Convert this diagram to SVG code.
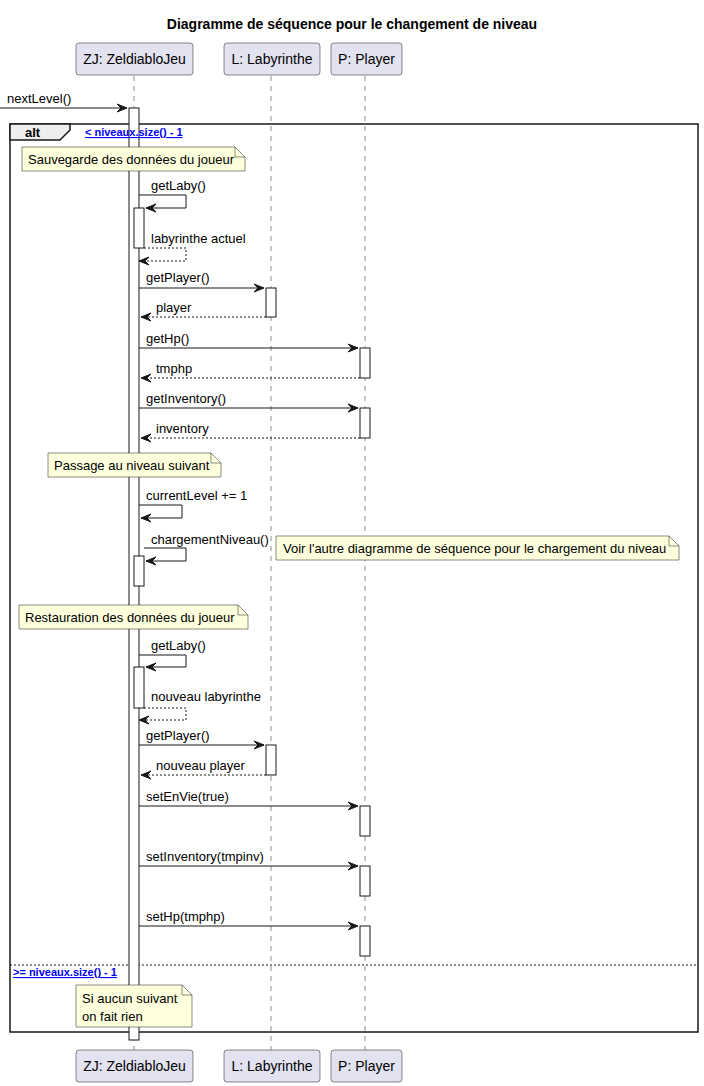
<svg xmlns="http://www.w3.org/2000/svg" width="704" height="1086" viewBox="0 0 704 1086">
<style>
text{font-family:"Liberation Sans",Arial,sans-serif;fill:#000;}
.t{font-size:13px;}
.p{font-size:14px;text-anchor:middle;}
.part{fill:#E2E2F0;stroke:#181818;stroke-width:0.5;}
.life{stroke:#181818;stroke-width:0.5;stroke-dasharray:5,5;fill:none;}
.act{fill:#FFFFFF;stroke:#181818;stroke-width:1;}
.msg{stroke:#181818;stroke-width:1;fill:none;}
.ret{stroke:#181818;stroke-width:1;fill:none;stroke-dasharray:2,2;}
.ah{fill:#181818;stroke:#181818;stroke-width:1;}
.note{fill:#FEFFDD;stroke:#181818;stroke-width:0.5;}
.cond{font-size:11px;font-weight:bold;fill:#0000FF;text-decoration:underline;}
</style>
<rect width="704" height="1086" fill="#FFFFFF"/>
<text x="352" y="29" style="font-size:14px;font-weight:bold;text-anchor:middle">Diagramme de séquence pour le changement de niveau</text>

<g id="lifelines">
<line class="life" x1="134" y1="76" x2="134" y2="1050"/>
<line class="life" x1="271" y1="76" x2="271" y2="1050"/>
<line class="life" x1="365" y1="76" x2="365" y2="1050"/>
</g>

<g id="frame-alt">
<rect x="10" y="124" width="688" height="908" fill="none" stroke="#181818" stroke-width="1.5"/>
<path d="M10,124 L70,124 L70,130 L60,140 L10,140 Z" fill="#EEEEEE" stroke="#181818" stroke-width="1.5"/>
<text x="25" y="137" style="font-size:13px;font-weight:bold">alt</text>
<line x1="10" y1="965" x2="698" y2="965" stroke="#181818" stroke-width="1" stroke-dasharray="2,2"/>
</g>

<g id="activations">
<rect class="act" x="129" y="108" width="10" height="932"/>
<rect class="act" x="134" y="208" width="10" height="40"/>
<rect class="act" x="266" y="288" width="10" height="29"/>
<rect class="act" x="360" y="348" width="10" height="30"/>
<rect class="act" x="360" y="408" width="10" height="30"/>
<rect class="act" x="134" y="556" width="10" height="30"/>
<rect class="act" x="134" y="667" width="10" height="41"/>
<rect class="act" x="266" y="745" width="10" height="30"/>
<rect class="act" x="360" y="806" width="10" height="30"/>
<rect class="act" x="360" y="866" width="10" height="30"/>
<rect class="act" x="360" y="926" width="10" height="30"/>
</g>

<g id="frame-conditions">
<text x="85" y="136" class="cond">&lt; niveaux.size() - 1</text>
<text x="13" y="976" class="cond">&gt;= niveaux.size() - 1</text>
</g>

<g id="connectors">
<line class="msg" x1="0" y1="108" x2="127" y2="108"/>
<polygon class="ah" points="117,104 127,108 117,112 121,108"/>
<text class="t" x="7" y="103">nextLevel()</text>
<polyline class="msg" points="139,195 186,195 186,208 146,208"/>
<polygon class="ah" points="156,204 146,208 156,212 152,208"/>
<text class="t" x="151" y="190">getLaby()</text>
<polyline class="ret" points="144,248 186,248 186,261 139,261"/>
<polygon class="ah" points="149,257 139,261 149,265 145,261"/>
<text class="t" x="151" y="243">labyrinthe actuel</text>
<line class="msg" x1="139" y1="288" x2="264" y2="288"/>
<polygon class="ah" points="254,284 264,288 254,292 258,288"/>
<text class="t" x="146" y="282">getPlayer()</text>
<line class="ret" x1="266" y1="317" x2="141" y2="317"/>
<polygon class="ah" points="151,313 141,317 151,321 147,317"/>
<text class="t" x="156" y="312">player</text>
<line class="msg" x1="139" y1="348" x2="358" y2="348"/>
<polygon class="ah" points="348,344 358,348 348,352 352,348"/>
<text class="t" x="146" y="343">getHp()</text>
<line class="ret" x1="360" y1="378" x2="141" y2="378"/>
<polygon class="ah" points="151,374 141,378 151,382 147,378"/>
<text class="t" x="156" y="373">tmphp</text>
<line class="msg" x1="139" y1="408" x2="358" y2="408"/>
<polygon class="ah" points="348,404 358,408 348,412 352,408"/>
<text class="t" x="146" y="403">getInventory()</text>
<line class="ret" x1="360" y1="438" x2="141" y2="438"/>
<polygon class="ah" points="151,434 141,438 151,442 147,438"/>
<text class="t" x="156" y="433">inventory</text>
<polyline class="msg" points="139,505 182,505 182,518 141,518"/>
<polygon class="ah" points="151,514 141,518 151,522 147,518"/>
<text class="t" x="146" y="500">currentLevel += 1</text>
<polyline class="msg" points="144,548 186,548 186,561 146,561"/>
<polygon class="ah" points="156,557 146,561 156,565 152,561"/>
<text class="t" x="151" y="544">chargementNiveau()</text>
<polyline class="msg" points="139,655 186,655 186,667 146,667"/>
<polygon class="ah" points="156,663 146,667 156,671 152,667"/>
<text class="t" x="151" y="650">getLaby()</text>
<polyline class="ret" points="144,708 186,708 186,720 139,720"/>
<polygon class="ah" points="149,716 139,720 149,724 145,720"/>
<text class="t" x="151" y="701">nouveau labyrinthe</text>
<line class="msg" x1="139" y1="745" x2="264" y2="745"/>
<polygon class="ah" points="254,741 264,745 254,749 258,745"/>
<text class="t" x="146" y="740">getPlayer()</text>
<line class="ret" x1="266" y1="775" x2="141" y2="775"/>
<polygon class="ah" points="151,771 141,775 151,779 147,775"/>
<text class="t" x="156" y="770">nouveau player</text>
<line class="msg" x1="139" y1="806" x2="358" y2="806"/>
<polygon class="ah" points="348,802 358,806 348,810 352,806"/>
<text class="t" x="146" y="801">setEnVie(true)</text>
<line class="msg" x1="139" y1="866" x2="358" y2="866"/>
<polygon class="ah" points="348,862 358,866 348,870 352,866"/>
<text class="t" x="146" y="861">setInventory(tmpinv)</text>
<line class="msg" x1="139" y1="926" x2="358" y2="926"/>
<polygon class="ah" points="348,922 358,926 348,930 352,926"/>
<text class="t" x="146" y="921">setHp(tmphp)</text>
</g>

<g id="note-sauvegarde">
<path class="note" d="M22,147 L235,147 L245,157 L245,171 L22,171 Z"/>
<path d="M235,147 L235,157 L245,157" fill="none" stroke="#181818" stroke-width="0.5"/>
<text class="t" x="28" y="164">Sauvegarde des données du joueur</text>
</g>
<g id="note-passage">
<path class="note" d="M48,453 L211,453 L221,463 L221,477 L48,477 Z"/>
<path d="M211,453 L211,463 L221,463" fill="none" stroke="#181818" stroke-width="0.5"/>
<text class="t" x="54" y="470">Passage au niveau suivant</text>
</g>
<g id="note-voir">
<path class="note" d="M276,536 L669,536 L679,546 L679,560 L276,560 Z"/>
<path d="M669,536 L669,546 L679,546" fill="none" stroke="#181818" stroke-width="0.5"/>
<text class="t" x="283" y="553">Voir l'autre diagramme de séquence pour le chargement du niveau</text>
</g>
<g id="note-restauration">
<path class="note" d="M19,605 L238,605 L248,615 L248,629 L19,629 Z"/>
<path d="M238,605 L238,615 L248,615" fill="none" stroke="#181818" stroke-width="0.5"/>
<text class="t" x="25" y="622">Restauration des données du joueur</text>
</g>
<g id="note-aucun">
<path class="note" d="M76,985 L182,985 L192,995 L192,1027 L76,1027 Z"/>
<path d="M182,985 L182,995 L192,995" fill="none" stroke="#181818" stroke-width="0.5"/>
<text class="t" x="82" y="1003">Si aucun suivant</text>
<text class="t" x="82" y="1021">on fait rien</text>
</g>

<g id="ZJ-top"><rect class="part" x="76" y="43" width="117" height="32" rx="3"/><text class="p" x="134.5" y="64">ZJ: ZeldiabloJeu</text></g>
<g id="L-top"><rect class="part" x="224" y="43" width="96" height="32" rx="3"/><text class="p" x="272" y="64">L: Labyrinthe</text></g>
<g id="P-top"><rect class="part" x="331" y="43" width="71" height="32" rx="3"/><text class="p" x="366.5" y="64">P: Player</text></g>
<g id="ZJ-bottom"><rect class="part" x="76" y="1050" width="117" height="32" rx="3"/><text class="p" x="134.5" y="1071">ZJ: ZeldiabloJeu</text></g>
<g id="L-bottom"><rect class="part" x="224" y="1050" width="96" height="32" rx="3"/><text class="p" x="272" y="1071">L: Labyrinthe</text></g>
<g id="P-bottom"><rect class="part" x="331" y="1050" width="71" height="32" rx="3"/><text class="p" x="366.5" y="1071">P: Player</text></g>
</svg>
